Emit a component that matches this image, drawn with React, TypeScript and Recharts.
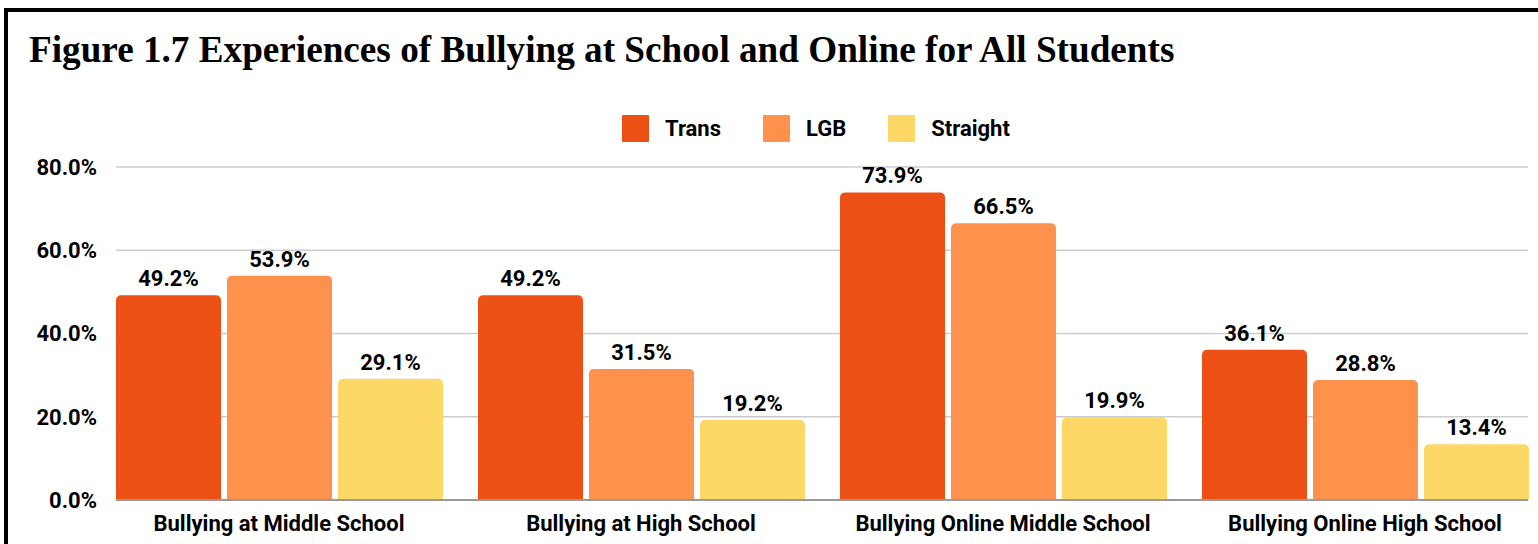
import { BarChart, Bar, XAxis, YAxis, CartesianGrid, LabelList } from 'recharts';

const categories = [
  'Bullying at Middle School',
  'Bullying at High School',
  'Bullying Online Middle School',
  'Bullying Online High School',
];
const trans = [49.2, 49.2, 73.9, 36.1];
const lgb = [53.9, 31.5, 66.5, 28.8];
const straight = [29.1, 19.2, 19.9, 13.4];
const yTicks = [0, 20, 40, 60, 80];

const series = [
  { key: 'trans', name: 'Trans', color: '#EC5014' },
  { key: 'lgb', name: 'LGB', color: '#FE914C' },
  { key: 'straight', name: 'Straight', color: '#FED866' },
];

const data = categories.map((c, i) => ({ name: c, trans: trans[i], lgb: lgb[i], straight: straight[i] }));

const FONT = 'Roboto, "Noto Sans", sans-serif';
const pct = (v: any) => `${Number(v).toFixed(1)}%`;

export default function App() {
  return (
    <div style={{ position: 'absolute', left: 0, top: 0, width: 1538, height: 544, overflow: 'hidden', background: '#fff' }}>
      <div style={{ position: 'absolute', left: 4, top: 8, width: 1600, height: 600, border: '4px solid #000', boxSizing: 'border-box' }} />
      <div style={{ position: 'absolute', left: 29, top: 30, fontFamily: '"Liberation Serif", "Times New Roman", serif', fontWeight: 700, fontSize: 37.2, lineHeight: '40px', color: '#000', whiteSpace: 'nowrap' }}>
        Figure 1.7 Experiences of Bullying at School and Online for All Students
      </div>
      <div style={{ position: 'absolute', left: 622, top: 115, display: 'flex', alignItems: 'center', fontFamily: FONT, fontWeight: 700, fontSize: 22, color: '#000' }}>
        {series.map((s, i) => (
          <div key={s.key} style={{ display: 'flex', alignItems: 'center', marginRight: i < series.length - 1 ? 42 : 0 }}>
            <div style={{ width: 27, height: 27, background: s.color, borderRadius: 1, marginRight: 16 }} />
            <span>{s.name}</span>
          </div>
        ))}
      </div>
      <div style={{ position: 'absolute', left: 0, top: 0 }}>
        <BarChart width={1538} height={544} data={data} margin={{ top: 167, right: 10, bottom: 4, left: 0 }} barSize={105} barGap={6}>
          <CartesianGrid vertical={false} stroke="#cccccc" strokeWidth={1.5} />
          <XAxis
            dataKey="name"
            height={40}
            padding={{ left: -18, right: -18 }}
            tickLine={false}
            tickSize={0}
            tickMargin={15}
            axisLine={{ stroke: '#999999', strokeWidth: 2 }}
            tick={{ fontFamily: FONT, fontWeight: 700, fontSize: 22, fill: '#000' }}
            interval={0}
          />
          <YAxis
            width={116}
            domain={[0, 80]}
            ticks={yTicks}
            tickFormatter={pct}
            axisLine={false}
            tickLine={false}
            tickSize={0}
            tickMargin={19}
            tick={{ fontFamily: FONT, fontWeight: 700, fontSize: 22, fill: '#000' }}
          />
          {series.map((s) => (
            <Bar key={s.key} dataKey={s.key} name={s.name} fill={s.color} radius={[5, 5, 0, 0]} isAnimationActive={false}>
              <LabelList dataKey={s.key} position="top" offset={9} formatter={pct} style={{ fontFamily: FONT, fontWeight: 700, fontSize: 22, fill: '#000' }} />
            </Bar>
          ))}
        </BarChart>
      </div>
    </div>
  );
}
